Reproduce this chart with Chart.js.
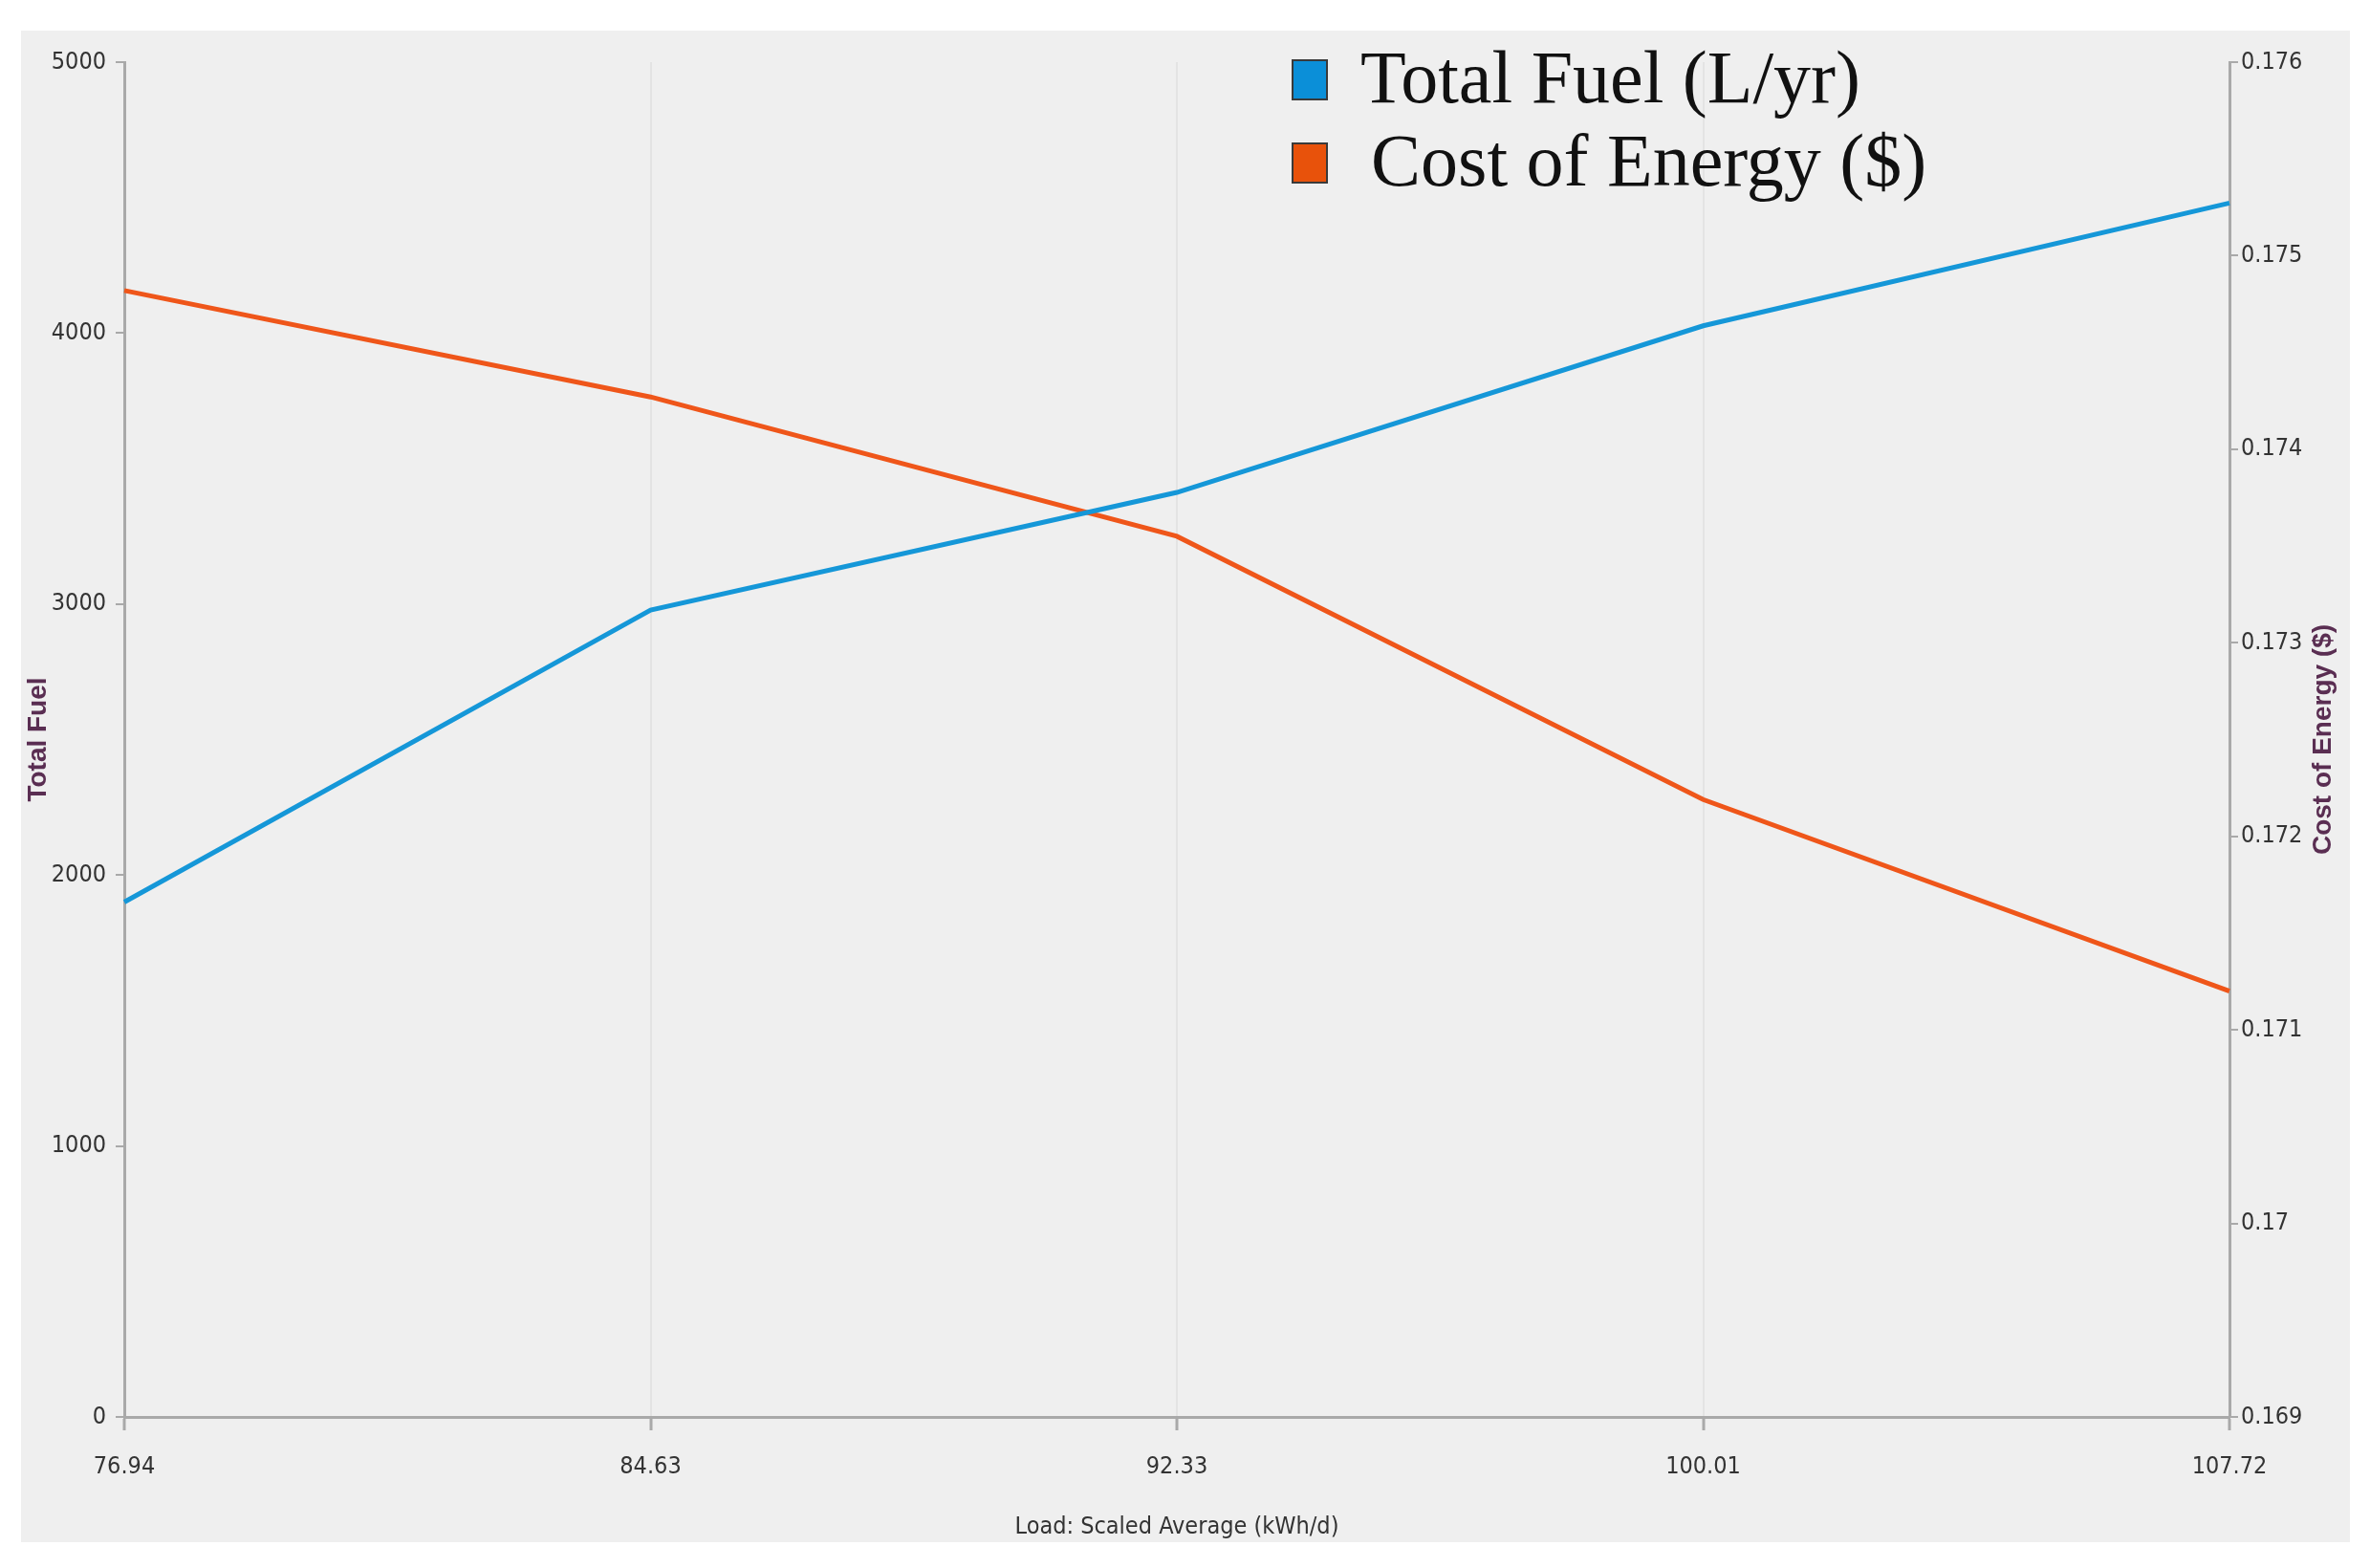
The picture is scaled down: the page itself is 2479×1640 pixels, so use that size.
<!DOCTYPE html>
<html>
<head>
<meta charset="utf-8">
<title>Total Fuel vs Cost of Energy</title>
<script src="https://cdn.jsdelivr.net/npm/chart.js@4.4.0/dist/chart.umd.min.js"></script>
<style>
  body { margin: 0; background: #ffffff; }
  canvas { display: block; }
</style>
</head>
<body>
<canvas id="GraficoCargaCombustible" width="2479" height="1640"></canvas>
<script>
// datos
const cargas = ['76.94', '84.63', '92.33', '100.01', '107.72'];
const combustibleTotal = [1900, 2978, 3412, 4027, 4480];
const costoEnergia = [0.17482, 0.17427, 0.17355, 0.17219, 0.17120];
const ticksCombustible = [0, 5000, 1000];      // min, max, paso
const ticksCosto = [0.169, 0.176, 0.001];
const etiquetas = ['Total Fuel (L/yr)', 'Cost of Energy ($)'];
const tituloDerecho = 'Cost of Energy ($)';

const fuenteEje = "'Liberation Sans Narrow', 'Arial Narrow', 'DejaVu Sans Condensed', sans-serif";
const fuenteTitulo = "bold 28px 'Liberation Sans', Arial, sans-serif";

// fondo gris del panel
const fondoPanel = {
  id: 'fondoPanel',
  beforeDraw(chart) {
    const c = chart.ctx;
    c.save();
    c.fillStyle = '#ffffff';
    c.fillRect(0, 0, chart.width, chart.height);
    c.fillStyle = '#efefef';
    c.fillRect(22, 32, 2436, 1581);
    c.restore();
  }
};

// leyenda dibujada a mano (cuadro con borde y texto serif grande)
// y titulo del eje derecho girado hacia arriba como en el original
const leyendaSerif = {
  id: 'leyendaSerif',
  afterDraw(chart) {
    const c = chart.ctx;
    c.save();
    c.font = "78px 'Liberation Serif', 'DejaVu Serif', serif";
    c.textBaseline = 'alphabetic';
    chart.data.datasets.forEach(function(ds, i) {
      const y = 63 + i * 87;
      c.fillStyle = ds.legendColor;
      c.fillRect(1352, y, 36, 41);
      c.strokeStyle = '#3a3a3a';
      c.lineWidth = 2;
      c.strokeRect(1352, y, 36, 41);
      c.fillStyle = '#111111';
      c.fillText(ds.label, 1423 + i * 11, y + 44);
    });
    c.restore();

    const area = chart.chartArea;
    c.save();
    c.translate(2430, (area.top + area.bottom) / 2);
    c.rotate(-Math.PI / 2);
    c.font = fuenteTitulo;
    c.fillStyle = '#5a2e52';
    c.textAlign = 'center';
    c.textBaseline = 'middle';
    c.fillText(tituloDerecho, 0, 0);
    c.restore();
  }
};

const GraficoCargaCombustible = new Chart(document.getElementById('GraficoCargaCombustible'), {
  type: 'line',
  data: {
    labels: cargas,
    datasets: [{
      label: etiquetas[0],
      data: combustibleTotal,
      yAxisID: 'yFuel',
      borderColor: '#1597d8',
      legendColor: '#0b8fd8',
      borderWidth: 5,
      pointRadius: 0,
      tension: 0
    }, {
      label: etiquetas[1],
      data: costoEnergia,
      yAxisID: 'yCost',
      borderColor: '#ef561a',
      legendColor: '#e8520b',
      borderWidth: 5,
      pointRadius: 0,
      tension: 0
    }]
  },
  options: {
    responsive: false,
    animation: false,
    devicePixelRatio: 1,
    layout: { padding: { top: 65, left: 0, right: 0, bottom: 0 } },
    plugins: {
      legend: { display: false },
      tooltip: { enabled: false }
    },
    scales: {
      x: {
        type: 'category',
        offset: false,
        border: { color: '#a9a9a9', width: 3 },
        grid: {
          color: '#e3e3e3',
          lineWidth: 2,
          tickColor: '#a9a9a9',
          tickWidth: 3,
          tickLength: 14
        },
        ticks: {
          color: '#333333',
          font: { family: fuenteEje, size: 25 },
          padding: 23,
          maxRotation: 0,
          autoSkip: false
        },
        title: {
          display: true,
          text: 'Load: Scaled Average (kWh/d)',
          color: '#333333',
          font: { family: fuenteEje, size: 25 },
          padding: { top: 0, bottom: 28 }
        },
        afterFit(scale) { scale.height = 158; }
      },
      yFuel: {
        type: 'linear',
        position: 'left',
        min: ticksCombustible[0],
        max: ticksCombustible[1],
        border: { color: '#a9a9a9', width: 3 },
        grid: {
          drawOnChartArea: false,
          color: '#a9a9a9',
          lineWidth: 2,
          tickLength: 9
        },
        ticks: {
          stepSize: ticksCombustible[2],
          color: '#333333',
          font: { family: fuenteEje, size: 25 },
          padding: 10,
          callback: function(value) { return String(value); }
        },
        title: {
          display: true,
          text: 'Total Fuel',
          color: '#5a2e52',
          font: { family: "'Liberation Sans', Arial, sans-serif", size: 28, weight: 'bold' },
          padding: { top: 23, bottom: 0 }
        },
        afterFit(scale) { scale.width = 130; }
      },
      yCost: {
        type: 'linear',
        position: 'right',
        min: ticksCosto[0],
        max: ticksCosto[1],
        border: { color: '#a9a9a9', width: 3 },
        grid: {
          drawOnChartArea: false,
          color: '#a9a9a9',
          lineWidth: 2,
          tickLength: 9
        },
        ticks: {
          stepSize: ticksCosto[2],
          color: '#333333',
          font: { family: fuenteEje, size: 25 },
          padding: 3,
          callback: function(value) { return String(Number(value.toFixed(3))); }
        },
        title: { display: false },
        afterFit(scale) { scale.width = 147; }
      }
    }
  },
  plugins: [fondoPanel, leyendaSerif]
});
</script>
</body>
</html>
